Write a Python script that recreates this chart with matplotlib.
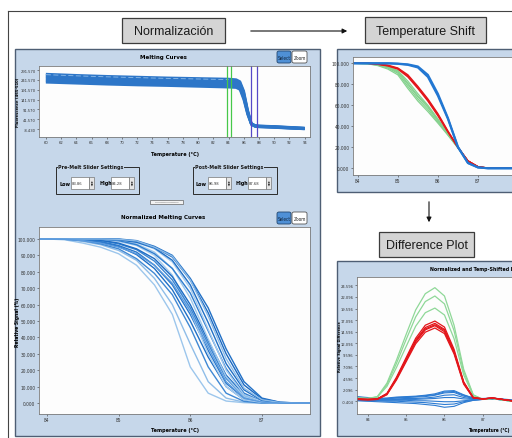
import matplotlib
matplotlib.use("Agg")
import matplotlib.pyplot as plt
from matplotlib import font_manager
from matplotlib.patches import Rectangle, FancyBboxPatch, FancyArrowPatch
from matplotlib.lines import Line2D

W, H = 512, 439
NARROW = ['Liberation Sans Narrow', 'DejaVu Sans']
PLAIN = ['Liberation Sans', 'DejaVu Sans']
plt.rcParams['font.family'] = NARROW
# use a condensed face for the small UI text when one is installed
if any(f.stretch == 'condensed' and f.name == 'DejaVu Sans' for f in font_manager.fontManager.ttflist):
    plt.rcParams['font.stretch'] = 'condensed'

PANEL = '#c6d7ea'
EDGE = '#4e5e74'
TICK = 3.5

# raw melting curves (fluorescence vs temperature)
raw_temp = [60, 64, 68, 72, 76, 80, 84, 85, 85.5, 86, 86.5, 87, 87.5, 88, 90, 92, 94]
raw_curves = [
    [271, 265, 260, 256, 252, 249, 246, 243, 233, 185, 90, 20, 10, 8, 5, 1, -3],
    [264, 258, 253, 249, 245, 242, 239, 236, 226, 178, 86, 19, 9, 7, 4, 0, -4],
    [257, 251, 246, 242, 238, 235, 232, 229, 219, 170, 82, 18, 8, 6, 3, -1, -5],
    [250, 244, 239, 235, 231, 228, 225, 222, 212, 162, 78, 17, 7, 5, 2, -2, -6],
    [243, 237, 232, 228, 224, 221, 218, 215, 205, 155, 74, 16, 6, 4, 1, -3, -7],
    [236, 230, 226, 222, 218, 214, 211, 208, 198, 148, 70, 15, 5, 3, 0, -4, -8],
    [229, 224, 219, 215, 212, 208, 204, 202, 192, 140, 66, 14, 4, 2, -1, -5, -8],
]
raw_yticks = [291.57, 241.57, 191.57, 141.57, 91.57, 41.57, -8.43]
raw_xticks = list(range(60, 95, 2))
pre_melt = [83.86, 84.28]
post_melt = [86.98, 87.68]

# normalized melting curves
norm_temp = [83.89, 84.0, 84.25, 84.5, 84.75, 85.0, 85.25, 85.5, 85.75,
             86.0, 86.25, 86.5, 86.75, 87.0, 87.25, 87.5, 87.67]
norm_curves = [
    [100, 100, 99.5, 97.5, 95, 91, 84, 72, 54, 22, 6, 1.2, 0.2, 0, 0, 0, 0],
    [100, 100, 99.8, 98.5, 96.5, 93, 87, 76, 60, 36, 13, 3, 0.5, 0, 0, 0, 0],
    [100, 100, 99.8, 99, 97, 94, 88, 79, 66, 46, 22, 6, 1, 0, 0, 0, 0],
    [100, 100, 100, 99.5, 98, 95.5, 90.5, 82, 69, 50, 28, 10, 2, 0.3, 0, 0, 0],
    [100, 100, 100, 99.5, 98.5, 96, 92, 84, 72, 54, 32, 12, 3, 0.5, 0, 0, 0],
    [100, 100, 100, 100, 99.5, 98.5, 96, 90, 78, 56, 30, 10, 2, 0.3, 0, 0, 0],
    [100, 100, 100, 99.7, 99, 97, 93.5, 86.5, 75, 58, 36, 15, 4, 0.8, 0, 0, 0],
    [100, 100, 100, 99.8, 99.2, 97.5, 94, 88, 77, 60, 38, 17, 5, 1, 0, 0, 0],
    [100, 100, 100, 100, 99.8, 99.3, 97, 92, 82, 64, 39, 16, 4, 0.5, 0, 0, 0],
    [100, 100, 100, 100, 99.8, 99, 96.5, 91, 82, 67, 44, 21, 6, 1, 0.2, 0, 0],
    [100, 100, 100, 100, 100, 99.5, 98, 94, 86, 70, 45, 20, 5, 1, 0, 0, 0],
    [100, 100, 100, 100, 100, 99.5, 98, 94.5, 87, 72, 49, 24, 8, 1.5, 0.2, 0, 0],
    [100, 100, 100, 100, 100, 99.8, 98.5, 95, 89, 75, 55, 30, 11, 2.5, 0.4, 0, 0],
    [100, 100, 100, 100, 100, 100, 99, 95.5, 90, 76, 58, 33, 13, 3, 0.5, 0, 0],
    [100, 100, 100, 100, 100, 99.8, 98.8, 95, 89.5, 75, 53, 27, 9, 2, 0.3, 0, 0],
    [100, 100, 99.8, 99, 97.5, 95, 91, 84, 73, 56, 34, 13, 3, 0.5, 0, 0, 0],
]
norm_colors = ['#9cc6ec', '#8fbde8', '#3f88d4', '#1f6fc6', '#2a78cc', '#a8cdef',
               '#3b86d3', '#1d6cc4', '#9fc8ec', '#2f7dcf', '#a4caee', '#1f6fc6',
               '#1b69c2', '#2170c6', '#8cbbe7', '#5a9ade']

# temperature shifted curves
shift_temp = [83.88, 84.25, 84.5, 84.75, 85.0, 85.25, 85.5, 85.75,
              86.0, 86.25, 86.5, 86.75, 87.0, 87.25, 87.85]
shift_green = [
    [100, 99.8, 98.8, 96.5, 92.5, 81, 69, 59, 46, 33, 19.8, 6.8, 1.4, 0.2, 0],
    [100, 99.6, 98.2, 95.5, 90.5, 78, 66, 56, 44, 32, 19.5, 6.8, 1.4, 0.2, 0],
    [100, 99.7, 98.5, 96, 91.5, 80, 68, 58, 45.5, 32.5, 19.7, 6.8, 1.4, 0.2, 0],
    [100, 99.5, 97.8, 94.5, 89, 76, 64, 54, 43, 31.5, 19.4, 6.8, 1.4, 0.2, 0],
    [100, 99.8, 99, 97, 93, 83, 71, 60, 47, 33.5, 19.9, 6.8, 1.4, 0.2, 0],
]
shift_red = [
    [100, 100, 99.2, 97.8, 95, 88, 77, 65, 51, 35, 20, 7, 1.5, 0.2, 0],
    [100, 100, 99, 97.5, 94.5, 87, 76, 64, 50, 34.5, 19.8, 7, 1.5, 0.2, 0],
    [100, 100, 99.4, 98.2, 95.5, 89, 78, 66, 52, 35.5, 20.2, 7, 1.5, 0.2, 0],
]
shift_blue = [
    [100, 100, 100, 100, 99.5, 98.5, 96, 87, 69, 47, 20, 5, 0.8, 0, 0],
    [100, 100, 100, 100, 99.7, 99, 97, 89, 71, 48, 20.5, 5, 0.8, 0, 0],
]
shift_yticks = [100, 80, 60, 40, 20, 0]
temp_xticks = [84, 85, 86, 87]

# difference curves
diff_temp = [83.72, 84.0, 84.25, 84.5, 84.75, 85.0, 85.25, 85.5, 85.75,
             86.0, 86.25, 86.5, 86.75, 87.0, 87.25, 87.5, 87.76]
diff_green = [
    [0.3, 0.2, 0.6, 3.5, 8.5, 14.0, 19.3, 22.8, 24.1, 22.3, 16.0, 6.5, 1.0, 0.0, 0.2, -0.1, -0.4],
    [0.3, 0.2, 0.5, 3.2, 7.8, 12.9, 17.8, 21.1, 22.3, 20.6, 14.8, 6.0, 0.9, 0.0, 0.2, -0.1, -0.4],
    [0.3, 0.2, 0.5, 2.8, 6.9, 11.4, 15.8, 18.7, 19.7, 18.2, 13.1, 5.3, 0.8, 0.0, 0.2, -0.1, -0.4],
]
diff_red = [
    [0.1, 0.0, 0.1, 1.3, 4.8, 9.0, 13.2, 16.0, 16.9, 15.6, 10.8, 3.8, 0.4, 0.1, 0.3, 0.0, -0.3],
    [0.1, 0.0, 0.1, 1.2, 4.6, 8.7, 12.8, 15.5, 16.4, 15.1, 10.4, 3.6, 0.4, 0.1, 0.3, 0.0, -0.3],
    [0.0, -0.1, 0.0, 1.1, 4.4, 8.4, 12.4, 15.0, 15.9, 14.6, 10.1, 3.5, 0.3, 0.1, 0.3, 0.0, -0.3],
    [0.0, -0.1, 0.0, 1.0, 4.2, 8.1, 12.0, 14.5, 15.4, 14.2, 9.8, 3.3, 0.3, 0.1, 0.3, 0.0, -0.3],
    [0.1, 0.0, 0.1, 1.2, 4.5, 8.5, 12.6, 15.2, 16.1, 14.9, 10.3, 3.7, 0.4, 0.1, 0.3, 0.0, -0.3],
]
diff_blue = [
    [0.6, 0.4, 0.2, 0.3, 0.5, 0.6, 0.7, 0.9, 1.2, 1.8, 1.9, 1.0, 0.3, 0.2, 0.3, 0.1, -0.1],
    [0.4, 0.3, 0.1, 0.1, 0.3, 0.4, 0.5, 0.6, 0.9, 1.4, 1.5, 0.7, 0.2, 0.1, 0.2, 0.0, -0.2],
    [0.2, 0.1, 0.0, 0.0, 0.1, 0.2, 0.2, 0.3, 0.5, 0.9, 1.0, 0.4, 0.1, 0.1, 0.2, 0.0, -0.2],
    [0.0, 0.0, -0.1, -0.1, 0.0, 0.0, 0.0, 0.1, 0.2, 0.4, 0.4, 0.1, 0.0, 0.0, 0.1, 0.0, -0.3],
    [-0.1, -0.2, -0.2, -0.2, -0.2, -0.2, -0.3, -0.3, -0.4, -0.5, -0.5, -0.3, -0.1, 0.0, 0.1, -0.1, -0.3],
    [-0.2, -0.3, -0.3, -0.4, -0.4, -0.5, -0.6, -0.7, -0.9, -1.1, -1.0, -0.5, -0.2, 0.0, 0.1, -0.1, -0.4],
    [-0.3, -0.4, -0.5, -0.6, -0.7, -0.8, -0.9, -1.1, -1.3, -1.7, -1.5, -0.7, -0.2, 0.0, 0.1, -0.1, -0.4],
    [0.5, 0.3, 0.2, 0.2, 0.4, 0.5, 0.6, 0.8, 1.0, 1.6, 1.7, 0.9, 0.3, 0.1, 0.2, 0.0, -0.2],
]
diff_yticks = [24.596 - 2.5 * k for k in range(11)]

fig = plt.figure(figsize=(W / 100, H / 100), dpi=100)
fig.patch.set_facecolor('white')


def fx(x):
    return x / W


def fy(y):
    return 1 - y / H


def rect(x0, y0, x1, y1, **kw):
    r = Rectangle((fx(x0), fy(y1)), (x1 - x0) / W, (y1 - y0) / H,
                  transform=fig.transFigure, **kw)
    fig.patches.append(r)
    return r


def line(xs, ys, **kw):
    fig.add_artist(Line2D([fx(x) for x in xs], [fy(y) for y in ys],
                          transform=fig.transFigure, **kw))


def text(x, y, s, **kw):
    fig.text(fx(x), fy(y), s, **kw)


def axes_px(x0, y0, x1, y1, tick=TICK):
    ax = fig.add_axes([fx(x0), fy(y1), (x1 - x0) / W, (y1 - y0) / H])
    ax.set_facecolor('#fdfdfd')
    for sp in ax.spines.values():
        sp.set_color('#7a7a7a')
        sp.set_linewidth(0.6)
    ax.tick_params(labelsize=tick, length=1.5, width=0.4, pad=1.0, colors='#333333')
    return ax


def title_box(x0, y0, x1, y1, label):
    rect(x0, y0, x1, y1, facecolor='#d4d4d4', edgecolor='#3c3c3c', lw=0.9)
    text((x0 + x1) / 2, (y0 + y1) / 2 + 0.5, label, ha='center', va='center',
         fontsize=9, family=PLAIN, stretch='normal', color='#1a1a1a')


def buttons(x, y):
    fig.patches.append(FancyBboxPatch((fx(x), fy(y + 12)), 14 / W, 12 / H,
                                      boxstyle='round,pad=0,rounding_size=0.004',
                                      transform=fig.transFigure,
                                      facecolor='#4f90d6', edgecolor='#22466e', lw=0.6))
    fig.patches.append(FancyBboxPatch((fx(x + 15), fy(y + 12)), 15 / W, 12 / H,
                                      boxstyle='round,pad=0,rounding_size=0.004',
                                      transform=fig.transFigure,
                                      facecolor='white', edgecolor='#555555', lw=0.6))
    text(x + 7, y + 6.5, 'Select', ha='center', va='center', fontsize=3.4, color='#10233a')
    text(x + 22.5, y + 6.5, 'Zoom', ha='center', va='center', fontsize=3.4, color='#222222')


def slider_group(x0, y0, x1, y1, label, low, high):
    rect(x0, y0, x1, y1, facecolor='none', edgecolor='#2b2b2b', lw=0.7)
    text(x0 + 2, y0, label, ha='left', va='center', fontsize=3.9, weight='bold',
         color='#1a1a1a', bbox=dict(facecolor=PANEL, edgecolor='none', pad=0.3))
    text(x0 + 3, y0 + 16, 'Low', ha='left', va='center', fontsize=3.9, weight='bold')
    text(x0 + 43, y0 + 16, 'High', ha='left', va='center', fontsize=3.9, weight='bold')
    for bx, val in ((x0 + 15, low), (x0 + 55, high)):
        rect(bx, y0 + 10, bx + 18, y0 + 22, facecolor='white', edgecolor='#777777', lw=0.5)
        text(bx + 1.2, y0 + 16, f'{val:.2f}', ha='left', va='center', fontsize=3.0,
             color='#333333')
        rect(bx + 18, y0 + 10, bx + 23, y0 + 22, facecolor='#e6e6e6', edgecolor='#777777', lw=0.5)
        text(bx + 20.5, y0 + 16, '▲\n▼', ha='center', va='center', fontsize=2.0,
             family='DejaVu Sans', linespacing=0.9)


# outer frame and panels
line([8, 512], [12, 12], color='#444444', lw=0.8)
line([8, 8], [12, 439], color='#444444', lw=0.8)
rect(15, 50, 320, 437, facecolor=PANEL, edgecolor=EDGE, lw=1.0, zorder=-1)
rect(337, 50, 530, 193, facecolor=PANEL, edgecolor=EDGE, lw=1.0, zorder=-1)
rect(337, 262, 530, 437, facecolor=PANEL, edgecolor=EDGE, lw=1.0, zorder=-1)

title_box(122, 19, 225, 44, 'Normalización')
title_box(365, 18, 486, 44, 'Temperature Shift')
title_box(379, 233, 474, 258, 'Difference Plot')

fig.add_artist(FancyArrowPatch((fx(248), fy(32)), (fx(350), fy(32)), transform=fig.transFigure,
                               arrowstyle='-|>', mutation_scale=7, color='#111111', lw=0.8))
fig.add_artist(FancyArrowPatch((fx(429), fy(200)), (fx(429), fy(226)), transform=fig.transFigure,
                               arrowstyle='-|>', mutation_scale=7, color='#111111', lw=0.8))

# raw melting curves
ax1 = axes_px(39, 67, 310, 138, tick=3.0)
for vals in raw_curves:
    ax1.plot(raw_temp, vals, color='#2d76c8', lw=1.8, solid_capstyle='butt')
ax1.plot(raw_temp[:7], [v + 4 for v in raw_curves[1][:7]], color='#8dbbe8', lw=0.6, ls=(0, (6, 3)))
for t in pre_melt:
    ax1.axvline(t, color='#46c84a', lw=0.9)
for t in post_melt:
    ax1.axvline(t, color='#5548c8', lw=0.9)
ax1.set_xlim(59.1, 94.7)
ax1.set_ylim(-49, 312)
ax1.set_xticks(raw_xticks)
ax1.set_xticklabels([str(v) for v in raw_xticks])
ax1.set_yticks(raw_yticks)
ax1.set_yticklabels([f'{v:.3f}' for v in raw_yticks])
text(163, 57, 'Melting Curves', ha='center', va='center', fontsize=4.4, weight='bold')
text(175, 155, 'Temperature (°C)', ha='center', va='center', fontsize=4.0, weight='bold')
text(18, 102, 'Fluorescence (465-510)', ha='center', va='center', rotation=90,
     fontsize=3.0, weight='bold')
buttons(277, 52)

slider_group(56, 168, 139, 195, 'Pre-Melt Slider Settings', pre_melt[0], pre_melt[1])
slider_group(193, 168, 277, 195, 'Post-Melt Slider Settings', post_melt[0], post_melt[1])
rect(150, 201, 183, 205, facecolor='#f2f2f2', edgecolor='#666666', lw=0.5)
line([155, 178], [203, 203], color='#555555', lw=0.4, ls=(0, (1, 1)))

# normalized curves
ax2 = axes_px(39, 228, 310, 415)
for vals, c in zip(norm_curves, norm_colors):
    ax2.plot(norm_temp, vals, color=c, lw=1.0)
ax2.set_xlim(83.89, 87.67)
ax2.set_ylim(-6.7, 107.3)
ax2.set_xticks(temp_xticks)
ax2.set_xticklabels([str(v) for v in temp_xticks])
norm_yticks = list(range(100, -1, -10))
ax2.set_yticks(norm_yticks)
ax2.set_yticklabels([f'{v:.3f}' for v in norm_yticks])
text(163, 218, 'Normalized Melting Curves', ha='center', va='center', fontsize=4.4, weight='bold')
text(175, 431, 'Temperature (°C)', ha='center', va='center', fontsize=4.0, weight='bold')
text(17, 322, 'Relative Signal (%)', ha='center', va='center', rotation=90,
     fontsize=3.6, weight='bold')
buttons(277, 213)

# temperature shifted curves
ax3 = axes_px(353, 58, 512, 176)
for vals in shift_green:
    ax3.plot(shift_temp, vals, color='#86d28f', lw=0.9)
for vals in shift_red:
    ax3.plot(shift_temp, vals, color='#e3161b', lw=1.0)
for vals in shift_blue:
    ax3.plot(shift_temp, vals, color='#2277d2', lw=1.5)
ax3.set_xlim(83.88, 87.85)
ax3.set_ylim(-6.4, 106)
ax3.set_xticks(temp_xticks)
ax3.set_xticklabels([str(v) for v in temp_xticks])
ax3.set_yticks(shift_yticks)
ax3.set_yticklabels([f'{v:.3f}' for v in shift_yticks])

# difference plot
ax4 = axes_px(357, 278, 512, 415, tick=3.0)
for vals in diff_blue:
    ax4.plot(diff_temp, vals, color='#2c7bd2', lw=0.8)
for vals in diff_green:
    ax4.plot(diff_temp, vals, color='#8fd898', lw=0.9)
for vals in diff_red:
    ax4.plot(diff_temp, vals, color='#e3161b', lw=0.9)
ax4.set_xlim(83.72, 87.76)
ax4.set_ylim(-3.15, 26.4)
ax4.set_xticks(temp_xticks)
ax4.set_xticklabels([str(v) for v in temp_xticks])
ax4.set_yticks(diff_yticks)
ax4.set_yticklabels([f'{v:.3f}' for v in diff_yticks])
text(430, 269, 'Normalized and Temp-Shifted Difference', ha='left', va='center',
     fontsize=3.8, weight='bold')
text(510, 431, 'Temperature (°C)', ha='right', va='center', fontsize=3.4, weight='bold')
text(340, 347, 'Relative Signal Difference', ha='center', va='center', rotation=90,
     fontsize=2.8, weight='bold')

fig.savefig('out.png', dpi=100)
